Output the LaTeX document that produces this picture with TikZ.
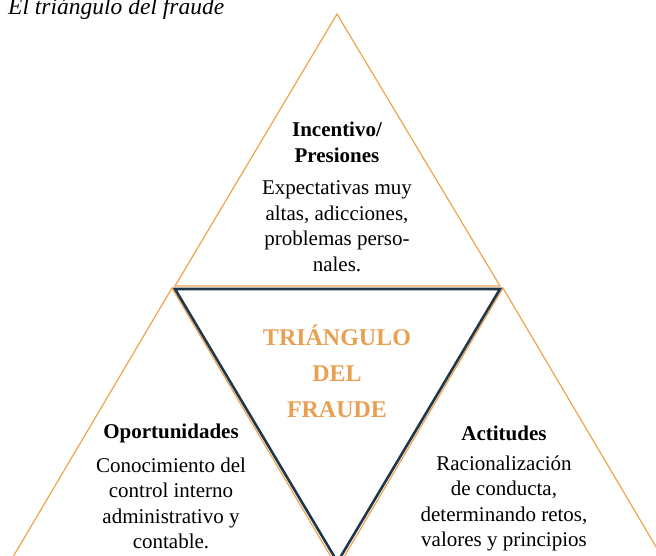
\documentclass[tikz,border=0pt]{standalone}
\usepackage{fontspec}
\setmainfont{Liberation Serif}
\usetikzlibrary{positioning}
\definecolor{fraudorange}{RGB}{240,163,78}
\definecolor{fraudtext}{RGB}{232,160,82}
\definecolor{fraudnavy}{RGB}{28,56,74}
\begin{document}
\begin{tikzpicture}[x=1pt,y=-1pt,
    side/.style={draw=fraudorange, line width=1.2pt},
    inner/.style={draw=fraudnavy, line width=2.6pt},
    head/.style={font=\fontsize{21}{25.5}\selectfont\bfseries, align=center, inner sep=0pt},
    body/.style={font=\fontsize{21}{25.5}\selectfont, align=center, inner sep=0pt},
    core/.style={font=\fontsize{24}{36}\selectfont\bfseries, text=fraudtext, align=center, inner sep=0pt}]

    \useasboundingbox (0,0) rectangle (656,555);

    % corners of the four triangles
    \coordinate (top) at (337,14);
    \coordinate (topl) at (175,286);
    \coordinate (topr) at (500,286);
    \coordinate (midl) at (175,289);
    \coordinate (midr) at (500,289);
    \coordinate (midb) at (337.5,562);
    \coordinate (left) at (172,288);
    \coordinate (leftl) at (10,562);
    \coordinate (leftr) at (334,562);
    \coordinate (right) at (503,288);
    \coordinate (rightl) at (341,562);
    \coordinate (rightr) at (665,562);

    \begin{scope}
        \clip (0,0) rectangle (656,555);
        \draw [side] (top) -- (topr) -- (topl) -- cycle;
        \draw [side] (left) -- (leftr) -- (leftl) -- cycle;
        \draw [side] (right) -- (rightr) -- (rightl) -- cycle;
        \draw [inner] (midl) -- (midr) -- (midb) -- cycle;
    \end{scope}

    \node [anchor=base west, inner sep=0pt, font=\fontsize{23.5}{28}\selectfont\itshape] (title) at (8,14) {El triángulo del fraude};

    \node [head] (incentivo) at (337,142.5) {Incentivo/\\Presiones};
    \node [body] (expect) at (337,226) {Expectativas muy\\altas, adicciones,\\problemas perso-\\nales.};

    \node [core] (core) at (337,371.5) {TRIÁNGULO\\DEL\\FRAUDE};

    \node [head] (oport) at (171,433) {Oportunidades};
    \node [body] (conoc) at (171,503.5) {Conocimiento del\\control interno\\administrativo y\\contable.};

    \node [head] (actit) at (504,433) {Actitudes};
    \node [body] (racio) at (504,503.5) {Racionalización\\de conducta,\\determinando retos,\\valores y principios};
\end{tikzpicture}
\end{document}
